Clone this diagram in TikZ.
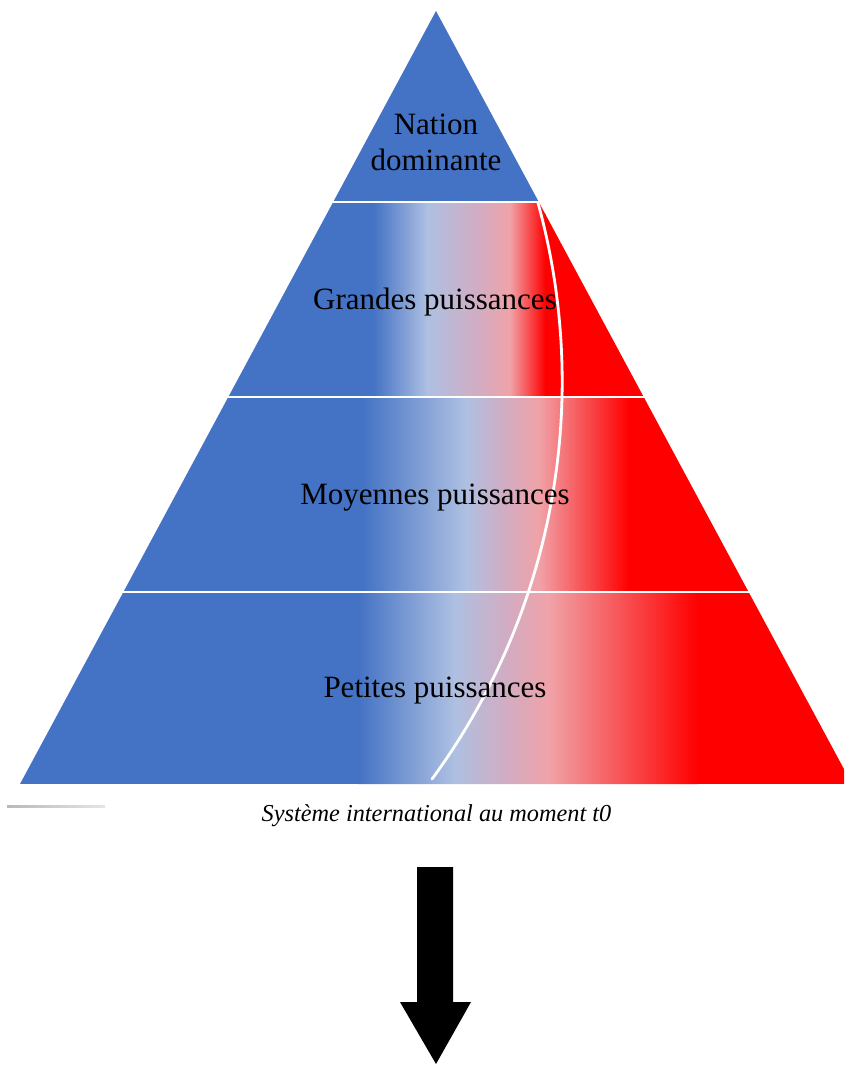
\documentclass[tikz,border=0pt]{standalone}
\usepackage{fontspec}
\setmainfont{Liberation Serif}

\definecolor{pyrblue}{RGB}{68,114,196}
\definecolor{pyrlb}{RGB}{174,192,226}
\definecolor{pyrmid}{RGB}{210,172,194}
\definecolor{pyrlp}{RGB}{240,162,167}
\definecolor{pyrred}{RGB}{255,0,0}

% One horizontal colour band: top y, bottom y, then the x where the
% blue ends, light blue, mauve, light pink and full red sit.
\newcommand\pyrband[7]{%
  \fill[pyrblue] (0,#1) rectangle (#3+0.6,#2);
  \shade[left color=pyrblue,right color=pyrlb] (#3,#1) rectangle (#4+0.6,#2);
  \shade[left color=pyrlb,right color=pyrmid] (#4,#1) rectangle (#5+0.6,#2);
  \shade[left color=pyrmid,right color=pyrlp] (#5,#1) rectangle (#6+0.6,#2);
  \shade[left color=pyrlp,right color=pyrred] (#6,#1) rectangle (#7+0.6,#2);
  \fill[pyrred] (#7,#1) rectangle (870,#2);
}

\tikzset{
  level/.style={font=\fontsize{31}{36}\selectfont, text=black, inner sep=0pt, anchor=base},
  caption/.style={font=\fontsize{24.3}{28}\selectfont\itshape, text=black, inner sep=0pt, anchor=base},
  divider/.style={white, line width=2pt},
  flow/.style={white, line width=2.8pt, line cap=round}
}

\begin{document}
\begin{tikzpicture}[x=1pt,y=-1pt]
\useasboundingbox (0,0) rectangle (844,1065);
\clip (0,0) rectangle (844,1065);

% apex: dominant nation
\fill[pyrblue] (436,11) -- (538.8,202) -- (333.2,202) -- cycle;

% great powers
\begin{scope}
  \clip (333.2,202) -- (538.8,202) -- (643.7,397) -- (228.3,397) -- cycle;
  \pyrband{202}{397}{373}{427}{478}{510}{545}
\end{scope}

% middle powers
\begin{scope}
  \clip (228.3,397) -- (643.7,397) -- (748.6,592) -- (123.4,592) -- cycle;
  \pyrband{397}{592}{362}{465}{505}{539}{628}
\end{scope}

% small powers
\begin{scope}
  \clip (123.4,592) -- (748.6,592) -- (852,784) -- (20,784) -- cycle;
  \pyrband{592}{784}{358}{454}{507}{549}{697}
\end{scope}

% white separators between the levels
\draw[divider] (333.2,202) -- (538.8,202);
\draw[divider] (228.3,397) -- (643.7,397);
\draw[divider] (123.4,592) -- (748.6,592);

% white arc across the pyramid
\coordinate (flowtop) at (538,203);
\draw[flow] (flowtop) arc[start angle=-15.42, end angle=36.27, radius=671.8];

% level labels
\node[level] (nation) at (436,134) {Nation};
\node[level] (dominante) at (436,170) {dominante};
\node[level] (grandes) at (435,309) {Grandes puissances};
\node[level] (moyennes) at (435,504) {Moyennes puissances};
\node[level] (petites) at (435,697) {Petites puissances};

% short rule at the left and caption
\shade[left color=gray!55, right color=gray!20] (7,805) rectangle (105,807);
\node[caption] (legend) at (436.5,821) {Système international au moment t0};

% block arrow pointing down
\fill[black] (417,867) -- (453,867) -- (453,1002) -- (471,1002) -- (436,1064) -- (400,1002) -- (417,1002) -- cycle;
\end{tikzpicture}
\end{document}
